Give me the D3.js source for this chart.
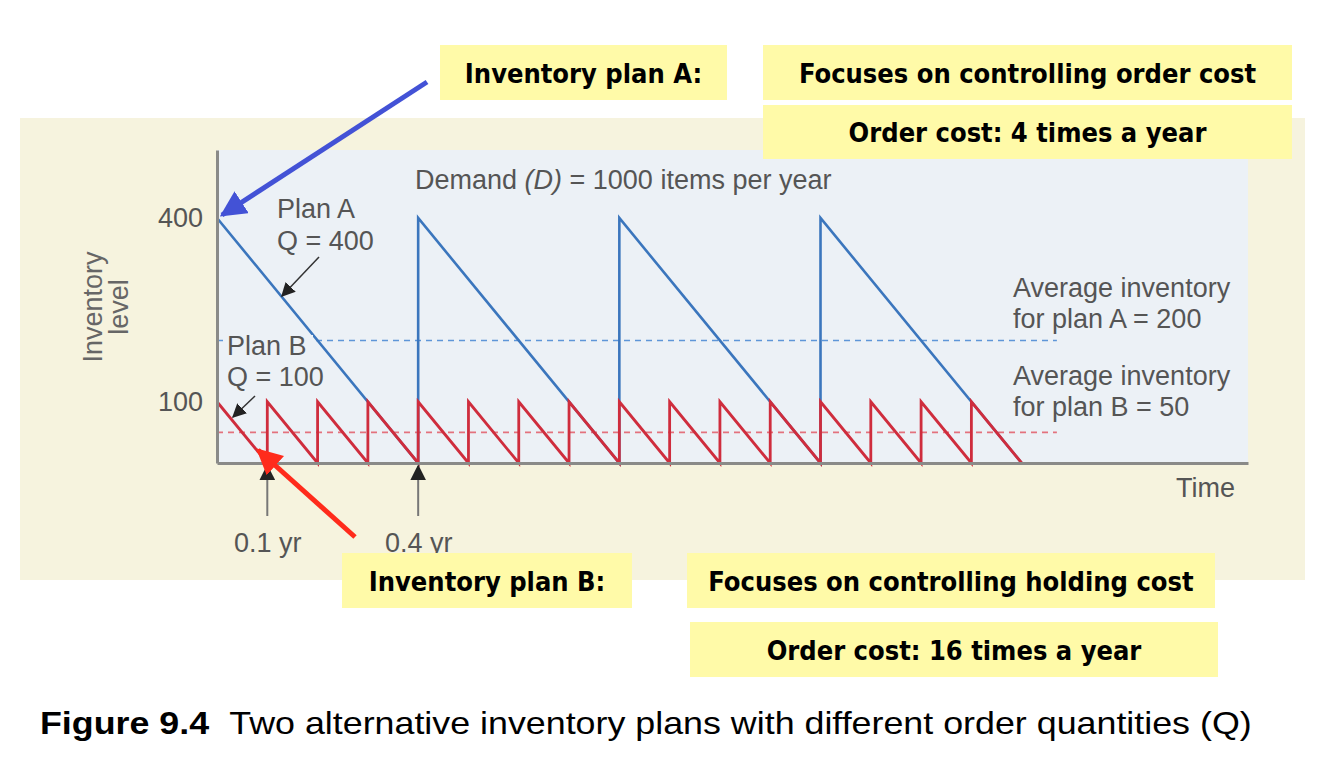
<!DOCTYPE html>
<html>
<head>
<meta charset="utf-8">
<script src="https://cdn.jsdelivr.net/npm/d3@7"></script>
<style>
  body { margin: 0; background: #fff; }
  svg { display: block; }
</style>
</head>
<body>
<svg id="chart" width="1334" height="775"></svg>
<script>
// plan A, Q = 400 (time in years, inventory level in items)
const planATime = [0, 0.4, 0.4, 0.8, 0.8, 1.2, 1.2, 1.6];
const planALevel = [400, 0, 400, 0, 400, 0, 400, 0];
// plan B, Q = 100
const planBTime = [0, 0.1, 0.1, 0.2, 0.2, 0.3, 0.3, 0.4, 0.4, 0.5, 0.5, 0.6, 0.6, 0.7, 0.7, 0.8,
                   0.8, 0.9, 0.9, 1.0, 1.0, 1.1, 1.1, 1.2, 1.2, 1.3, 1.3, 1.4, 1.4, 1.5, 1.5, 1.6];
const planBLevel = [100, 0, 100, 0, 100, 0, 100, 0, 100, 0, 100, 0, 100, 0, 100, 0,
                    100, 0, 100, 0, 100, 0, 100, 0, 100, 0, 100, 0, 100, 0, 100, 0];
const averageLevels = [200, 50];
const averageEnd = 1.67;
const yTickValues = [100, 400];
const timeMarks = [0.1, 0.4];

const svg = d3.select('#chart');
const sans = '"Liberation Sans", Arial, sans-serif';
const boxFont = '"DejaVu Sans Condensed", "DejaVu Sans", sans-serif';

var x = d3.scaleLinear().domain([0, 2.05]).range([217, 1248]);
var y = d3.scaleLinear().domain([0, 511]).range([463, 150]);

// beige panel + plot background
svg.append('rect').attr('x', 20).attr('y', 118).attr('width', 1285).attr('height', 462).attr('fill', '#f6f3de');
svg.append('rect').attr('x', x(0)).attr('y', y(511)).attr('width', x(2.05) - x(0)).attr('height', y(0) - y(511)).attr('fill', '#ecf1f6');

var defs = svg.append('defs');
function marker(id, color, w, h){
  defs.append('marker').attr('id', id)
    .attr('viewBox', '0 0 10 10').attr('refX', 9).attr('refY', 5)
    .attr('markerUnits', 'userSpaceOnUse')
    .attr('markerWidth', w).attr('markerHeight', h)
    .attr('orient', 'auto')
    .append('path').attr('d', 'M0,0 L10,5 L0,10 z').attr('fill', color);
}
marker('headBlue', '#4352d6', 26, 26);
marker('headRed', '#ff2b1c', 26, 26);
marker('headBlack', '#222', 14, 14);
marker('headTick', '#222', 16, 16);

// average dashed lines
var avgColors = ['#5e96d8', '#e3727d'];
svg.selectAll('.avg').data(averageLevels).enter().append('line')
  .attr('class', 'avg')
  .attr('x1', x(0)).attr('x2', x(averageEnd))
  .attr('y1', d => y(d)).attr('y2', d => y(d))
  .attr('stroke', (d, i) => avgColors[i])
  .attr('stroke-width', 1.6)
  .attr('stroke-dasharray', '6,5');

var line = d3.line().x(d => x(d[0])).y(d => y(d[1]));
var planA = planATime.map((t, i) => [t, planALevel[i]]);
var planB = planBTime.map((t, i) => [t, planBLevel[i]]);

svg.append('path').datum(planA).attr('d', line)
  .attr('fill', 'none').attr('stroke', '#3b76bd').attr('stroke-width', 2.6);
svg.append('path').datum(planB).attr('d', line)
  .attr('fill', 'none').attr('stroke', '#cf2d3d').attr('stroke-width', 2.8);

// axes
var yAxis = svg.append('g').attr('transform', 'translate(' + x(0) + ',0)')
  .call(d3.axisLeft(y).tickValues(yTickValues).tickSize(0).tickSizeOuter(0).tickPadding(14));
var xAxis = svg.append('g').attr('transform', 'translate(0,' + y(0) + ')')
  .call(d3.axisBottom(x).tickValues(timeMarks).tickSize(0).tickSizeOuter(0).tickPadding(70)
    .tickFormat(d => d + ' yr'));
[yAxis, xAxis].forEach(function(g){
  g.select('.domain').attr('stroke', '#8a8a88').attr('stroke-width', 3);
  g.selectAll('text').attr('font-family', sans).attr('font-size', 27).attr('fill', '#555');
});

// upward arrows at 0.1 yr and 0.4 yr
svg.selectAll('.tick-arrow').data(timeMarks).enter().append('line')
  .attr('class', 'tick-arrow')
  .attr('x1', d => x(d)).attr('x2', d => x(d))
  .attr('y1', y(0) + 53).attr('y2', y(0) + 3)
  .attr('stroke', '#777').attr('stroke-width', 2)
  .attr('marker-end', 'url(#headTick)');

function label(txt, px, py, opts){
  opts = opts || {};
  return svg.append('text').attr('x', px).attr('y', py)
    .attr('font-family', sans).attr('font-size', opts.size || 27)
    .attr('fill', opts.fill || '#555')
    .attr('text-anchor', opts.anchor || 'start')
    .text(txt);
}

var demand = label('Demand ', 415, 189);
demand.append('tspan').attr('font-style', 'italic').text('(D)');
demand.append('tspan').text(' = 1000 items per year');

label('Plan A', 277, 218);
label('Q = 400', 277, 250);
svg.append('rect').attr('x', 225).attr('y', 335).attr('width', 88).attr('height', 24).attr('fill', '#ecf1f6');
label('Plan B', 227, 355);
label('Q = 100', 227, 386);
label('Average inventory', 1013, 297);
label('for plan A = 200', 1013, 328);
label('Average inventory', 1013, 385);
label('for plan B = 50', 1013, 416);
label('Time', 1235, 497, {anchor: 'end'});

svg.append('text').attr('transform', 'translate(102,307) rotate(-90)')
  .attr('font-family', sans).attr('font-size', 27).attr('fill', '#666')
  .attr('text-anchor', 'middle').text('Inventory');
svg.append('text').attr('transform', 'translate(128,307) rotate(-90)')
  .attr('font-family', sans).attr('font-size', 27).attr('fill', '#666')
  .attr('text-anchor', 'middle').text('level');

// small pointer arrows
svg.append('line').attr('x1', 319).attr('y1', 257).attr('x2', 282).attr('y2', 296)
  .attr('stroke', '#333').attr('stroke-width', 1.5).attr('marker-end', 'url(#headBlack)');
svg.append('line').attr('x1', 255).attr('y1', 396).attr('x2', 233).attr('y2', 417)
  .attr('stroke', '#333').attr('stroke-width', 1.5).attr('marker-end', 'url(#headBlack)');

// big callout arrows
svg.append('line').attr('x1', 427).attr('y1', 82).attr('x2', 222).attr('y2', 215)
  .attr('stroke', '#4352d6').attr('stroke-width', 5).attr('marker-end', 'url(#headBlue)');
svg.append('line').attr('x1', 355).attr('y1', 537).attr('x2', 258).attr('y2', 450)
  .attr('stroke', '#ff2b1c').attr('stroke-width', 5).attr('marker-end', 'url(#headRed)');

// yellow note boxes
var notes = [
  {x: 440, y: 45, w: 287, h: 55, t: 'Inventory plan A:'},
  {x: 763, y: 45, w: 529, h: 55, t: 'Focuses on controlling order cost'},
  {x: 763, y: 105, w: 529, h: 54, t: 'Order cost: 4 times a year'},
  {x: 342, y: 553, w: 290, h: 55, t: 'Inventory plan B:'},
  {x: 687, y: 553, w: 528, h: 55, t: 'Focuses on controlling holding cost'},
  {x: 690, y: 622, w: 528, h: 55, t: 'Order cost: 16 times a year'}
];
var note = svg.selectAll('.note').data(notes).enter().append('g').attr('class', 'note');
note.append('rect').attr('x', d => d.x).attr('y', d => d.y).attr('width', d => d.w).attr('height', d => d.h)
  .attr('fill', '#fffaa8');
note.append('text').attr('x', d => d.x + d.w / 2).attr('y', d => d.y + d.h / 2 + 10)
  .attr('text-anchor', 'middle').attr('font-family', boxFont).attr('font-weight', 'bold')
  .attr('font-size', 27).attr('fill', '#000').text(d => d.t);

// caption, stretched to the width it has in the figure
var cap = svg.append('text').attr('font-family', sans).attr('font-size', 32).attr('fill', '#000');
cap.append('tspan').attr('font-weight', 'bold').text('Figure 9.4');
cap.append('tspan').attr('dx', 18).text('Two alternative inventory plans with different order quantities (Q)');
var capW = cap.node().getComputedTextLength() + 18;
cap.attr('transform', 'translate(40,734) scale(' + (1212 / capW) + ',1)');
</script>
</body>
</html>
